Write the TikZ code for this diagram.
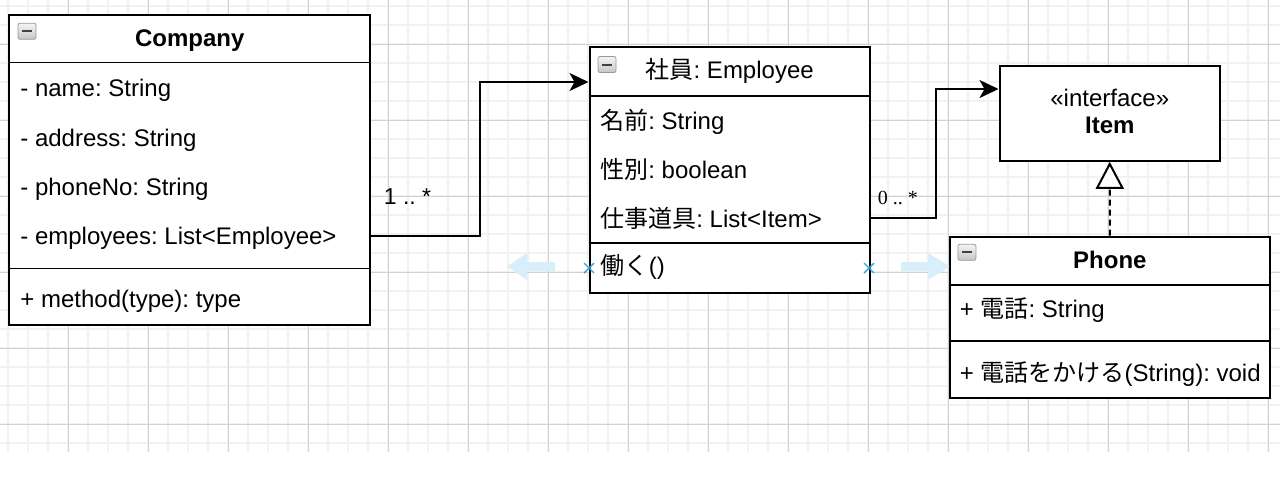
\documentclass[tikz,border=0pt]{standalone}
\usepackage{fontspec}
\setmainfont{Liberation Sans}
\newfontfamily\jp{Noto Sans CJK JP}
\newfontfamily\serifnum{Liberation Serif}
\usetikzlibrary{arrows.meta,calc}
\frenchspacing

\definecolor{gridminor}{HTML}{F2F2F2}
\definecolor{gridmajor}{HTML}{D2D2D2}
\definecolor{hintblue}{HTML}{D8EEFA}
\definecolor{markblue}{HTML}{2EA8E6}

\tikzset{
  classbox/.style={draw, line width=1pt, fill=white, anchor=north west, inner sep=0pt},
  sepline/.style={line width=0.8pt},
  member/.style={anchor=base west, inner sep=0pt, font=\fontsize{12}{14}\selectfont},
  heading/.style={anchor=base, inner sep=0pt, font=\fontsize{12}{14}\selectfont},
  boldheading/.style={heading, font=\fontsize{12}{14}\selectfont\bfseries},
  mult/.style={anchor=base west, inner sep=0pt},
  assoc/.style={line width=1pt, -{Stealth[length=9.5pt, width=9pt, inset=2.5pt]}},
  realize/.style={line width=1pt, dash pattern=on 3pt off 2pt,
    -{Triangle[open, length=13.5pt, width=14pt, fill=white]}},
  collapser/.style={draw=gray!80, rounded corners=1pt, minimum width=9pt, minimum height=8pt,
    inner sep=0pt, top color=gray!8, bottom color=gray!45,
    path picture={\draw[line width=1pt, black!75]
      ([xshift=2pt]path picture bounding box.west) -- ([xshift=-2pt]path picture bounding box.east);}},
  hint/.style={fill=hintblue, draw=none},
  marker/.style={draw=markblue, line width=0.7pt}
}

\begin{document}
\begin{tikzpicture}[x=0.5pt, y=-0.5pt]
\useasboundingbox (0,0) rectangle (1280,479);
\fill[white] (0,0) rectangle (1280,479);
% Grid
    \foreach \k in {0,...,63}
        \draw[gridminor, line width=1pt] ({8.3+20*\k},0) -- ({8.3+20*\k},452);
    \foreach \k in {0,...,23}
        \draw[gridminor, line width=1pt] (0,{6.3+19*\k}) -- (1280,{6.3+19*\k});
    \foreach \k in {0,...,15}
        \draw[gridmajor, line width=0.5pt] ({68.3+80*\k},0) -- ({68.3+80*\k},452);
    \foreach \k in {0,...,5}
        \draw[gridmajor, line width=0.5pt] (0,{44.3+76*\k}) -- (1280,{44.3+76*\k});
% Hint arrows
    \fill[hint] (555,262) -- (527,262) -- (527,253) -- (507,266.5) -- (527,280) -- (527,271) -- (555,271) -- cycle;
    \fill[hint] (901,262) -- (928,262) -- (928,253) -- (950,266.5) -- (928,280) -- (928,271) -- (901,271) -- cycle;
% Company
    \node[classbox, minimum width=180.5pt, minimum height=154.85pt] (company) at (8.3,14) {};
    \draw[sepline] (8.3,62.5) -- (369.3,62.5);
    \draw[sepline] (8.3,268.3) -- (369.3,268.3);
    \node[collapser] (cIcon) at (27,31.3) {};
    \node[boldheading] (cTitle) at ($(company.north)+(0,32.3)$) {Company};
    \node[member] (cName) at (20,96.7) {- name: String};
    \node[member] (cAddress) at (20,146) {- address: String};
    \node[member] (cPhone) at (20,195.3) {- phoneNo: String};
    \node[member] (cEmployees) at (20,244.6) {- employees: List<Employee>};
    \node[member] (cMethod) at (20,307.3) {+ method(type): type};
% Employee
    \node[classbox, minimum width=140.2pt, minimum height=123pt] (employee) at (588.5,45.7) {};
    \draw[sepline] (588.5,95.7) -- (868.9,95.7);
    \draw[sepline] (588.5,242.7) -- (868.9,242.7);
    \node[collapser] (eIcon) at (607,64.5) {};
    \node[heading] (eTitle) at ($(employee.north)+(0,32.6)$) {{\jp 社員}: Employee};
    \node[member] (eName) at (600,129.3) {{\jp 名前}: String};
    \node[member] (eSex) at (600,178.3) {{\jp 性別}: boolean};
    \node[member] (eTools) at (600,227.3) {{\jp 仕事道具}: List<Item>};
    \node[member] (eWork) at (600.5,274.5) {{\jp 働く}()};
% Item
    \node[classbox, minimum width=110.25pt, minimum height=47.4pt] (item) at (998.5,65) {};
    \node[heading] (iStereo) at ($(item.north)+(0,41)$) {«interface»};
    \node[boldheading] (iName) at ($(item.north)+(0,68.3)$) {Item};
% Phone
    \node[classbox, minimum width=159.85pt, minimum height=80.8pt] (phone) at (949,235.7) {};
    \draw[sepline] (949,285) -- (1268.7,285);
    \draw[sepline] (949,341) -- (1268.7,341);
    \node[collapser] (pIcon) at (966.9,252.3) {};
    \node[boldheading] (pTitle) at ($(phone.north)+(0,32.6)$) {Phone};
    \node[member] (pNumber) at (959.5,317.7) {+ {\jp 電話}: String};
    \node[member] (pCall) at (959.5,381.7) {+ {\jp 電話をかける}(String): void};
% Connectors
    \draw[assoc] ($(company.north east)+(0,222)$) -- ++(109,0) |- ($(employee.north west)+(0,36.3)$);
    \draw[assoc] ($(employee.north east)+(0,172.3)$) -- ++(64.6,0) |- ($(item.north west)+(0,24)$);
    \draw[realize] (phone.north) -- (item.south);
    \node[mult, font=\fontsize{11.5}{13}\selectfont] (mCompany) at (383.5,204) {1 .. *};
    \node[mult, font=\serifnum\fontsize{10}{12}\selectfont] (mEmployee) at (877.5,204) {0 .. *};
% Drop markers
    \draw[marker] (584,263) -- (594,273) (584,273) -- (594,263);
    \draw[marker] (864,263) -- (874,273) (864,273) -- (874,263);
\end{tikzpicture}
\end{document}
